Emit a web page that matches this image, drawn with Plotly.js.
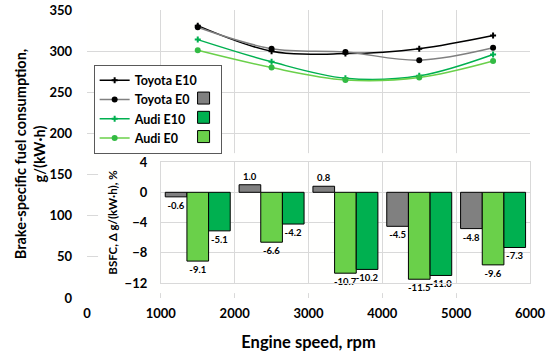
<!DOCTYPE html>
<html>
<head>
<meta charset="utf-8">
<script src="https://cdn.plot.ly/plotly-3.0.1.min.js"></script>
<style>html,body{margin:0;padding:0;background:#fff}#chart{width:550px;height:356px}</style>
</head>
<body>
<div id="chart"></div>
<script>
// Engine speeds (rpm)
const speeds = [1500, 2500, 3500, 4500, 5500];

// Brake-specific fuel consumption, g/(kW·h)
const toyotaE10 = [331, 300, 297, 303, 319];
const toyotaE0  = [329, 303, 299, 289, 304];
const audiE10   = [314, 287, 267, 270, 296];
const audiE0    = [301, 280, 265, 268, 288];

// BSFC difference, %
const diffToyota = [-0.6, 1.0, 0.8, -4.5, -4.8];
const diffAudiE0 = [-9.1, -6.6, -10.7, -11.5, -9.6];
const diffAudiE10 = [-5.1, -4.2, -10.2, -11.0, -7.3];

const FONT = 'Lato';
const bold = (size, color) => ({family: FONT, size: size, color: color || '#000', weight: 'bold'});
const GRID = '#d9d9d9';
const GRAY = '#808080';
const DKGREEN = '#00b050';
const LTGREEN = '#6ad04a';
const PAD = '\u00a0\u00a0\u00a0\u00a0\u00a0\u00a0';

const traces = [
  // empty placeholder so the white inset panel (x2/y2) exists; draws nothing
  {type: 'scatter', mode: 'none', x: [null], y: [null], xaxis: 'x2', yaxis: 'y2',
   showlegend: false, hoverinfo: 'skip'},

  {type: 'scatter', mode: 'lines+markers', name: 'Toyota E10' + PAD, x: speeds, y: toyotaE10,
   line: {color: '#000', width: 1.5, shape: 'spline'}, marker: {symbol: 'cross', size: 5, color: '#000'}},
  {type: 'scatter', mode: 'lines+markers', name: 'Toyota E0', x: speeds, y: toyotaE0,
   line: {color: GRAY, width: 1.5, shape: 'spline'}, marker: {symbol: 'circle', size: 6, color: '#000'}},
  {type: 'scatter', mode: 'lines+markers', name: 'Audi E10', x: speeds, y: audiE10,
   line: {color: DKGREEN, width: 1.5, shape: 'spline'}, marker: {symbol: 'cross', size: 5, color: DKGREEN}},
  {type: 'scatter', mode: 'lines+markers', name: 'Audi E0', x: speeds, y: audiE0,
   line: {color: LTGREEN, width: 1.5, shape: 'spline'}, marker: {symbol: 'circle', size: 6, color: '#33bb44'}},

  {type: 'bar', name: '', x: speeds, y: diffToyota, xaxis: 'x3', yaxis: 'y3', legend: 'legend2', legendrank: 1,
   marker: {color: GRAY, line: {color: '#000', width: 1}},
   texttemplate: '%{y:.1f}', textposition: 'outside', cliponaxis: false, constraintext: 'none',
   textfont: bold(9.5), hoverinfo: 'skip'},
  {type: 'bar', name: '', x: speeds, y: diffAudiE0, xaxis: 'x3', yaxis: 'y3', legend: 'legend2', legendrank: 3,
   marker: {color: LTGREEN, line: {color: '#000', width: 1}},
   texttemplate: '%{y:.1f}', textposition: 'outside', cliponaxis: false, constraintext: 'none',
   textfont: bold(9.5), hoverinfo: 'skip'},
  {type: 'bar', name: '', x: speeds, y: diffAudiE10, xaxis: 'x3', yaxis: 'y3', legend: 'legend2', legendrank: 2,
   marker: {color: DKGREEN, line: {color: '#000', width: 1}},
   texttemplate: '%{y:.1f}', textposition: 'outside', cliponaxis: false, constraintext: 'none',
   textfont: bold(9.5), hoverinfo: 'skip'}
];

const hiddenAxis = {visible: true, showgrid: false, zeroline: false, showline: false,
  showticklabels: false, ticks: '', fixedrange: true, range: [0, 1]};

const layout = {
  width: 550, height: 356,
  margin: {l: 87, r: 20, t: 10, b: 58},
  paper_bgcolor: '#ffffff', plot_bgcolor: '#fffffe',
  font: {family: FONT, color: '#000'},
  barmode: 'group', bargap: 0.12, bargroupgap: 0,
  xaxis: {
    range: [0, 6000], dtick: 1000, tick0: 0, showgrid: true, gridcolor: GRID, zeroline: false,
    showline: false, ticks: '', tickfont: bold(13), ticklabelstandoff: 6,
    title: {text: 'Engine speed, rpm', font: bold(16.5), standoff: 16}
  },
  yaxis: {
    range: [0, 350], dtick: 50, tick0: 0, showgrid: true, gridcolor: GRID, zeroline: false,
    showline: false, ticks: '', tickfont: bold(13), ticklabelstandoff: 14,
    title: {text: 'Brake-specific fuel consumption,<br>g/(kW·h)', font: bold(14.5), standoff: 0}
  },
  xaxis2: Object.assign({domain: [0.025, 1], anchor: 'y2'}, hiddenAxis),
  yaxis2: Object.assign({domain: [0.017, 0.503], anchor: 'x2'}, hiddenAxis),
  xaxis3: {
    domain: [1/6, 1], range: [1000, 6000], dtick: 1000, tick0: 1000, anchor: 'y3',
    showgrid: true, gridcolor: GRID, zeroline: false, showticklabels: false, ticks: '',
    showline: true, mirror: true, linecolor: GRID, linewidth: 1
  },
  yaxis3: {
    domain: [0.052, 0.472], range: [-12, 4], dtick: 4, tick0: 0, anchor: 'x3',
    showgrid: true, gridcolor: GRID, zeroline: false, ticks: '', tickfont: bold(13),
    ticklabelstandoff: 10, showline: true, mirror: true, linecolor: GRID, linewidth: 1,
    title: {text: 'BSFC, Δ g/(kW·h), %', font: bold(11.5), standoff: 4}
  },
  legend: {
    x: 0.015, y: 0.81, xanchor: 'left', yanchor: 'top',
    bgcolor: '#fff', bordercolor: '#595959', borderwidth: 1,
    font: bold(12.5), tracegroupgap: 0, itemwidth: 30
  },
  legend2: {
    x: 0.218, y: 0.745, xanchor: 'left', yanchor: 'top',
    bgcolor: 'rgba(0,0,0,0)', borderwidth: 0, traceorder: 'normal',
    font: bold(12.5), tracegroupgap: 0, itemwidth: 30
  },
  showlegend: true
};

Plotly.newPlot('chart', traces, layout, {staticPlot: true, displayModeBar: false});
</script>
</body>
</html>
